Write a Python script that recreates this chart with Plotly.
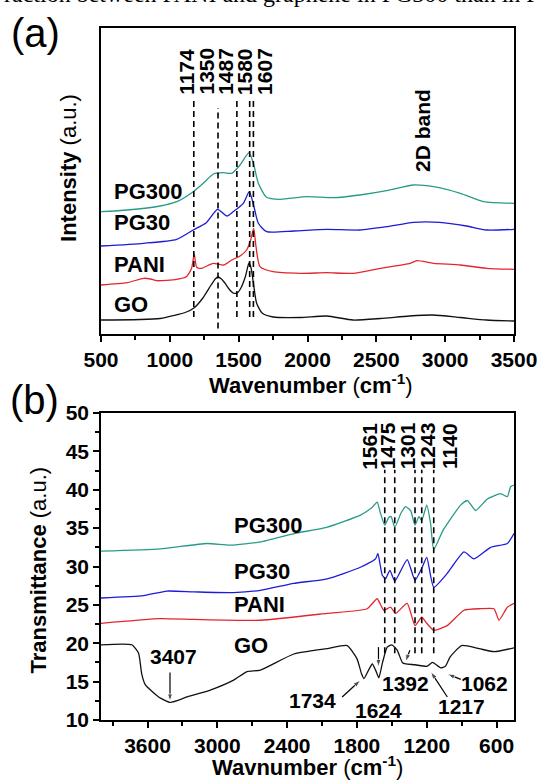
import plotly.graph_objects as go

# ---------------- (a) Raman spectra ----------------
raman_go_wn = [500, 930, 1120, 1175, 1240, 1300, 1330, 1350, 1375, 1400, 1430, 1460, 1490, 1520, 1550, 1575, 1590, 1607, 1630, 1670, 1750, 1950, 2140, 2330, 2530, 2740, 2910, 3110, 3300, 3500]
raman_go = [14, 15.5, 22, 26, 36, 49, 55, 57, 55, 51, 45, 41, 41, 47, 58, 71, 66, 51, 31, 21, 17, 16.5, 18, 14, 15.5, 18, 19, 16.5, 14, 13]

raman_pani_wn = [500, 690, 810, 860, 905, 1050, 1120, 1158, 1177, 1195, 1230, 1315, 1390, 1450, 1510, 1558, 1587, 1609, 1626, 1655, 1750, 1950, 2140, 2330, 2530, 2745, 2795, 2915, 3110, 3300, 3500]
raman_pani = [49, 51.3, 55.7, 55, 53.3, 54.7, 57.3, 65.7, 80, 66.7, 65.7, 70.7, 69, 74, 78, 84, 94, 105.7, 87.3, 67.3, 62.3, 60.7, 61.3, 60.7, 65.7, 70.7, 73.3, 70.7, 69, 65.7, 64.7]

raman_pg30_wn = [500, 810, 1050, 1170, 1265, 1347, 1413, 1460, 1534, 1577, 1611, 1643, 1703, 1900, 2140, 2380, 2575, 2770, 2960, 3155, 3300, 3500]
raman_pg30 = [88, 90.7, 94.7, 104, 111.3, 124.7, 118, 122.3, 130.7, 142.3, 127.3, 110.7, 102.3, 103, 104.7, 104, 107.3, 111.7, 111.7, 108, 104, 104.7]

raman_pg300_wn = [500, 690, 930, 1050, 1170, 1243, 1316, 1390, 1450, 1510, 1575, 1607, 1643, 1703, 1800, 1995, 2190, 2380, 2575, 2770, 2915, 3110, 3280, 3500]
raman_pg300 = [122.3, 124, 128, 132.3, 142.3, 150.7, 160, 161.3, 160.7, 169, 181.3, 170.7, 150.7, 136.7, 134.7, 137.3, 136.3, 139, 143.3, 149, 147.3, 140.7, 132.3, 130.7]

raman_peaks = [1174, 1350, 1487, 1580, 1607]
raman_peak_label_x = [1120, 1263, 1403, 1544, 1687]
raman_peak_top = [237, 226, 237, 237, 237]
raman_peak_bottom = [17, 5.5, 17, 17, 17]
raman_ticks = [500, 1000, 1500, 2000, 2500, 3000, 3500]

# ---------------- (b) FTIR spectra ----------------
ftir_pg300_wn = [4000, 3490, 3090, 2890, 2630, 2340, 2060, 1770, 1670, 1626, 1597, 1561, 1526, 1506, 1475, 1420, 1382, 1339, 1301, 1267, 1243, 1200, 1167, 1140, 1060, 909, 851, 780, 679, 565, 507, 479, 450]
ftir_pg300 = [32.0, 32.3, 33.0, 32.8, 33.2, 34.3, 35.1, 36.7, 37.7, 38.4, 36.9, 35.4, 36.4, 36.5, 35.1, 37.0, 37.8, 37.3, 35.4, 36.5, 36.0, 38.0, 35.6, 32.2, 34.7, 38.0, 38.6, 37.3, 38.8, 39.5, 39.1, 40.4, 40.6]

ftir_pg30_wn = [4000, 3634, 3434, 3204, 2860, 2630, 2343, 2056, 1770, 1640, 1620, 1583, 1554, 1517, 1474, 1368, 1301, 1239, 1200, 1140, 1024, 880, 794, 651, 507, 450]
ftir_pg30 = [25.9, 26.2, 26.8, 26.7, 26.6, 26.9, 27.8, 28.4, 29.9, 31.0, 31.7, 28.9, 28.4, 29.5, 28.1, 30.9, 28.2, 29.9, 31.2, 27.3, 29.1, 31.9, 31.0, 32.5, 33.0, 34.3]

ftir_pani_wn = [4000, 3491, 3204, 2630, 2056, 1712, 1626, 1569, 1511, 1468, 1368, 1301, 1243, 1200, 1140, 1024, 880, 737, 622, 579, 507, 450]
ftir_pani = [22.6, 23.2, 23.1, 23.0, 23.9, 24.5, 25.8, 24.3, 24.7, 23.9, 25.2, 22.3, 23.4, 22.6, 21.7, 22.3, 24.3, 24.5, 24.5, 23.0, 24.7, 25.2]

ftir_go_wn = [4000, 3735, 3677, 3650, 3620, 3505, 3405, 3261, 3061, 2860, 2745, 2630, 2343, 2056, 1884, 1800, 1760, 1740, 1700, 1668, 1640, 1612, 1580, 1540, 1500, 1454, 1410, 1380, 1300, 1200, 1150, 1080, 1040, 1000, 900, 750, 620, 450]
ftir_go = [19.8, 19.8, 18.7, 16.0, 14.6, 13.0, 12.3, 13.0, 13.9, 15.2, 16.3, 16.5, 18.6, 19.3, 19.7, 18.0, 16.0, 15.4, 16.5, 17.3, 16.5, 15.5, 17.5, 19.5, 19.8, 19.1, 17.5, 17.3, 17.2, 17.0, 17.5, 16.8, 17.0, 18.2, 19.7, 19.3, 18.9, 19.4]

ftir_peaks = [1561, 1475, 1301, 1243, 1140]
ftir_peak_label_x = [1698, 1539, 1367, 1195, 1009]
ftir_ticks = [3600, 3000, 2400, 1800, 1200, 600]

# GO band labels and arrows (label position, arrow tail, arrow head)
go_arrow_labels = ["3407", "1734", "1624", "1392", "1217", "1062"]
go_label_x = [3379, 2185, 1611, 1382, 900, 707]
go_label_y = [18.3, 12.6, 11.3, 14.7, 11.7, 14.8]
go_tail_x = [3407, 1927, 1615, 1345, 1023, 908]
go_tail_y = [16.2, 13.0, 19.5, 19.1, 13.0, 15.3]
go_head_x = [3407, 1769, 1615, 1382, 1166, 1023]
go_head_y = [12.4, 15.2, 16.9, 17.6, 16.3, 16.0]

names = ["GO", "PANI", "PG30", "PG300"]
colors = ["#111111", "#e3262b", "#1c1cd6", "#2a9a88"]

FONT = "Liberation Sans, Arial, sans-serif"

fig = go.Figure()

raman_sets = [(raman_go_wn, raman_go), (raman_pani_wn, raman_pani), (raman_pg30_wn, raman_pg30), (raman_pg300_wn, raman_pg300)]
for (xx, yy), n, c in zip(raman_sets, names, colors):
    fig.add_trace(go.Scatter(x=xx, y=yy, mode="lines", name=n, line=dict(color=c, width=1.3, shape="spline", smoothing=0.6),
                             xaxis="x", yaxis="y", showlegend=False))

ftir_sets = [(ftir_go_wn, ftir_go), (ftir_pani_wn, ftir_pani), (ftir_pg30_wn, ftir_pg30), (ftir_pg300_wn, ftir_pg300)]
for (xx, yy), n, c in zip(ftir_sets, names, colors):
    fig.add_trace(go.Scatter(x=xx, y=yy, mode="lines", name=n, line=dict(color=c, width=1.3, shape="spline", smoothing=0.5),
                             xaxis="x2", yaxis="y2", showlegend=False))


def vlines(xs, y0s, y1s):
    X, Y = [], []
    for x, a, b in zip(xs, y0s, y1s):
        X += [x, x, None]
        Y += [a, b, None]
    return X, Y

X, Y = vlines(raman_peaks, raman_peak_bottom, raman_peak_top)
fig.add_trace(go.Scatter(x=X, y=Y, mode="lines", line=dict(color="black", width=1.6, dash="6px,4px"),
                         xaxis="x", yaxis="y", showlegend=False))
X, Y = vlines(ftir_peaks, [18.7] * len(ftir_peaks), [42.6] * len(ftir_peaks))
fig.add_trace(go.Scatter(x=X, y=Y, mode="lines", line=dict(color="black", width=1.6, dash="6px,4px"),
                         xaxis="x2", yaxis="y2", showlegend=False))

# arrows as line traces with arrow-shaped end markers
for tx, ty, hx, hy in zip(go_tail_x, go_tail_y, go_head_x, go_head_y):
    fig.add_trace(go.Scatter(x=[tx, hx], y=[ty, hy], mode="lines+markers", line=dict(color="black", width=1.2),
                             marker=dict(symbol="arrow", angleref="previous", size=[0, 8], color="black"),
                             xaxis="x2", yaxis="y2", showlegend=False))

ann = []
lab = dict(family=FONT, size=21, color="black")
for p, lx in zip(raman_peaks, raman_peak_label_x):
    ann.append(dict(x=lx, y=262.5, xref="x", yref="y", text="<b>%d</b>" % p, textangle=-90, showarrow=False, font=lab))
ann.append(dict(x=2832, y=203, xref="x", yref="y", text="<b>2D band</b>", textangle=-90, showarrow=False, font=lab))
for n, yy in zip(["PG300", "PG30", "PANI", "GO"], [142.3, 111.3, 70, 30]):
    ann.append(dict(x=582, y=yy, xref="x", yref="y", text="<b>%s</b>" % n, xanchor="left", showarrow=False,
                    font=dict(family=FONT, size=22, color="black")))
for p, lx in zip(ftir_peaks, ftir_peak_label_x):
    ann.append(dict(x=lx, y=45.7, xref="x2", yref="y2", text="<b>%d</b>" % p, textangle=-90, showarrow=False, font=lab))
for n, yy in zip(["PG300", "PG30", "PANI", "GO"], [35.4, 29.3, 25.1, 19.7]):
    ann.append(dict(x=2871, y=yy, xref="x2", yref="y2", text="<b>%s</b>" % n, xanchor="left", showarrow=False,
                    font=dict(family=FONT, size=22, color="black")))
for t, lx, ly in zip(go_arrow_labels, go_label_x, go_label_y):
    ann.append(dict(x=lx, y=ly, xref="x2", yref="y2", text="<b>%s</b>" % t, showarrow=False, font=lab))

P = dict(xref="paper", yref="paper", xanchor="center", yanchor="middle", showarrow=False)
ann.append(dict(x=0.508, y=0.4855, text="<b>Wavenumber</b> (<b>cm<sup>-1</sup></b>)",
                font=dict(family=FONT, size=22, color="black"), **P))
ann.append(dict(x=0.5, y=-0.0658, text="<b>Wavnumber</b> (<b>cm<sup>-1</sup></b>)",
                font=dict(family=FONT, size=22, color="black"), **P))
ann.append(dict(x=-0.0775, y=0.7977, text="<b>Intensity</b> (a.u.)", textangle=-90,
                font=dict(family=FONT, size=22, color="black"), **P))
ann.append(dict(x=-0.1513, y=0.2168, text="<b>Transmittance</b> (a.u.)", textangle=-90,
                font=dict(family=FONT, size=22, color="black"), **P))
ann.append(dict(x=-0.1574, y=0.9928, text="(a)", font=dict(family=FONT, size=40, color="black"), **P))
ann.append(dict(x=-0.16, y=0.4624, text="(b)", font=dict(family=FONT, size=40, color="black"), **P))
ann.append(dict(x=-0.2397, y=1.0275, xref="paper", yref="paper", xanchor="left", yanchor="bottom",
                text="raction between PANI and graphene in PG300 than in PG", showarrow=False,
                font=dict(family="Liberation Serif, Times New Roman, serif", size=24, color="black")))

axis_common = dict(showline=True, linecolor="black", linewidth=1.5, mirror=True, showgrid=False, zeroline=False,
                   automargin=False, ticks="outside", ticklen=6, tickwidth=1.5, tickcolor="black",
                   tickfont=dict(family=FONT, size=21, color="black", weight="bold"))

fig.update_layout(
    template="none",
    width=542, height=783,
    margin=dict(l=101, r=28, t=28, b=63, autoexpand=False),
    paper_bgcolor="white", plot_bgcolor="white",
    xaxis=dict(domain=[0, 1], anchor="y", range=[500, 3500], tickmode="array", tickvals=raman_ticks,
               minor=dict(ticks="outside", ticklen=4, tickwidth=1.5, tickcolor="black", dtick=250, tick0=500), **axis_common),
    yaxis=dict(domain=[0.5578, 1], anchor="x", range=[0, 306], showline=True, linecolor="black", linewidth=1.5,
               mirror=True, showgrid=False, zeroline=False, automargin=False, ticks="", showticklabels=False),
    xaxis2=dict(domain=[0, 1], anchor="y2", range=[4000, 450], tickmode="array", tickvals=ftir_ticks,
                minor=dict(ticks="outside", ticklen=4, tickwidth=1.5, tickcolor="black", dtick=300, tick0=0), **axis_common),
    yaxis2=dict(domain=[0, 0.4436], anchor="x2", range=[10, 50], dtick=5, tick0=10,
                minor=dict(ticks="outside", ticklen=4, tickwidth=1.5, tickcolor="black", dtick=2.5, tick0=10), **axis_common),
    annotations=ann,
)

fig.write_html("out.html", config={"displayModeBar": False},
               post_script="document.body.style.margin='0';document.body.style.overflow='hidden';")
